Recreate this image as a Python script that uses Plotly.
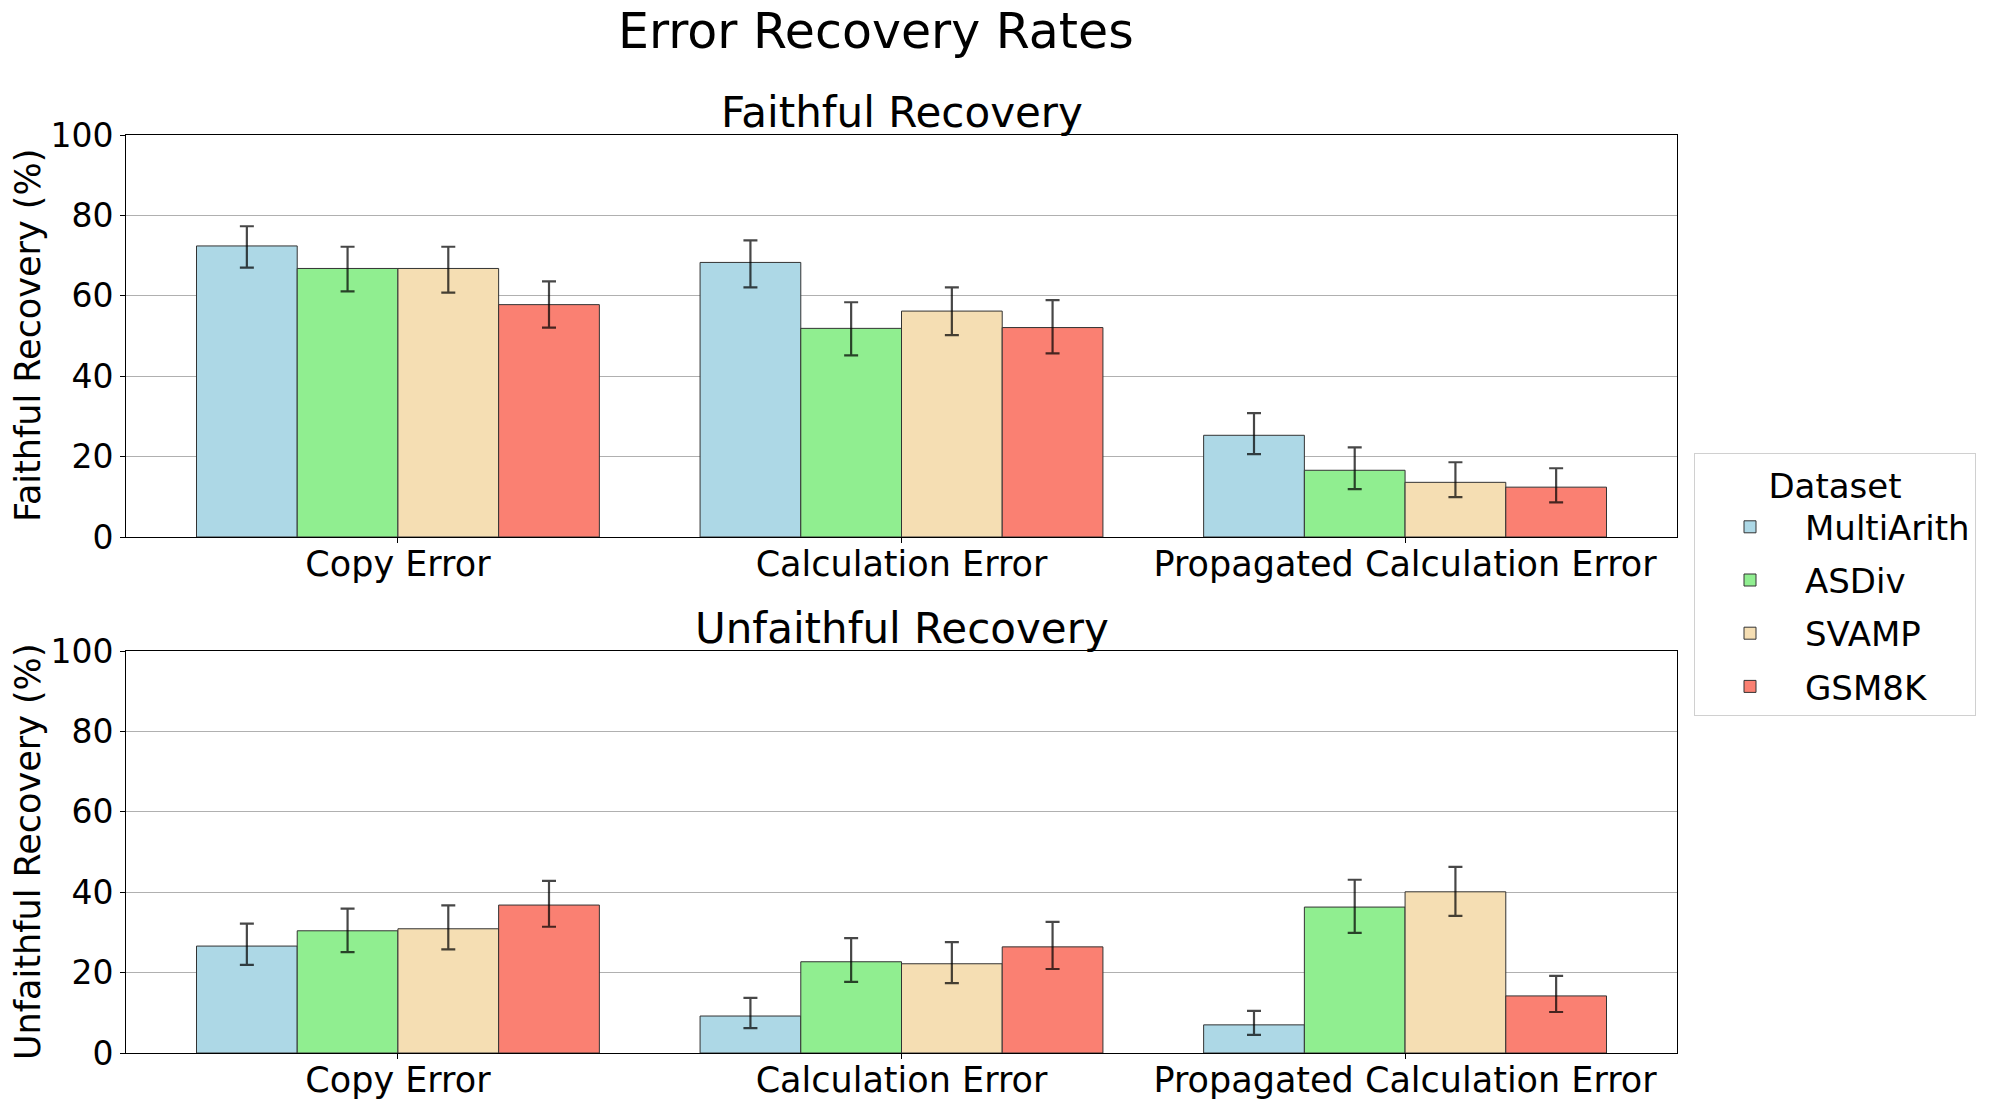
import plotly.graph_objects as go

categories = ["Copy Error", "Calculation Error", "Propagated Calculation Error"]
datasets = ["MultiArith", "ASDiv", "SVAMP", "GSM8K"]
colors = ["#ADD8E6", "#90EE90", "#F5DEB3", "#FA8072"]

# Faithful recovery (%) per dataset, values per category
faithful_multiarith = [72.4, 68.3, 25.3]
faithful_asdiv = [66.8, 51.9, 16.6]
faithful_svamp = [66.8, 56.2, 13.6]
faithful_gsm8k = [57.8, 52.1, 12.4]
faithful_multiarith_hi = [77.3, 73.8, 30.8]
faithful_multiarith_lo = [67.0, 62.1, 20.6]
faithful_asdiv_hi = [72.2, 58.4, 22.3]
faithful_asdiv_lo = [61.1, 45.2, 11.9]
faithful_svamp_hi = [72.2, 62.1, 18.6]
faithful_svamp_lo = [60.8, 50.2, 9.9]
faithful_gsm8k_hi = [63.6, 58.9, 17.1]
faithful_gsm8k_lo = [52.1, 45.7, 8.6]

# Unfaithful recovery (%)
unfaithful_multiarith = [26.6, 9.2, 7.0]
unfaithful_asdiv = [30.4, 22.7, 36.3]
unfaithful_svamp = [30.9, 22.2, 40.1]
unfaithful_gsm8k = [36.8, 26.4, 14.2]
unfaithful_multiarith_hi = [32.2, 13.7, 10.5]
unfaithful_multiarith_lo = [21.9, 6.2, 4.5]
unfaithful_asdiv_hi = [35.9, 28.6, 43.1]
unfaithful_asdiv_lo = [25.1, 17.7, 29.9]
unfaithful_svamp_hi = [36.7, 27.6, 46.3]
unfaithful_svamp_lo = [25.8, 17.4, 34.1]
unfaithful_gsm8k_hi = [42.8, 32.6, 19.2]
unfaithful_gsm8k_lo = [31.4, 20.9, 10.2]

y_ticks = [0, 20, 40, 60, 80, 100]

faithful = [
    (faithful_multiarith, faithful_multiarith_lo, faithful_multiarith_hi),
    (faithful_asdiv, faithful_asdiv_lo, faithful_asdiv_hi),
    (faithful_svamp, faithful_svamp_lo, faithful_svamp_hi),
    (faithful_gsm8k, faithful_gsm8k_lo, faithful_gsm8k_hi),
]
unfaithful = [
    (unfaithful_multiarith, unfaithful_multiarith_lo, unfaithful_multiarith_hi),
    (unfaithful_asdiv, unfaithful_asdiv_lo, unfaithful_asdiv_hi),
    (unfaithful_svamp, unfaithful_svamp_lo, unfaithful_svamp_hi),
    (unfaithful_gsm8k, unfaithful_gsm8k_lo, unfaithful_gsm8k_hi),
]

FONT = "DejaVu Sans"
OFF = 8  # page body margin
W, H = 1996 - 2 * OFF, 1107 - 2 * OFF

fig = go.Figure()

def add_panel(data, xa, ya, show_legend):
    for name, color, (vals, lo, hi) in zip(datasets, colors, data):
        fig.add_trace(go.Bar(
            x=categories, y=vals, name=name,
            marker=dict(color=color, line=dict(color="#333333", width=1)),
            error_y=dict(type="data", symmetric=False,
                         array=[h - v for h, v in zip(hi, vals)],
                         arrayminus=[v - l for v, l in zip(vals, lo)],
                         color="rgba(0,0,0,0.72)", thickness=2.2, width=7),
            xaxis=xa, yaxis=ya, showlegend=show_legend, legendgroup=name,
        ))

add_panel(faithful, "x", "y", True)
add_panel(unfaithful, "x2", "y2", False)

# target page coordinates (reference pixels), converted to figure coords
L, R = 126 - OFF, 1677 - OFF
top_t, top_b = 135 - OFF, 537 - OFF
bot_t, bot_b = 651 - OFF, 1053 - OFF

def py(px):
    return 1 - (px - OFF) / H

def pxx(px):
    return (px - OFF - L) / (R - L)

def pyd(px):  # px already in figure coords
    return 1 - px / H

axis_common = dict(showline=True, linecolor="black", linewidth=1, mirror=True,
                   ticks="outside", ticklen=5, tickcolor="black")
xtickfont = dict(family=FONT, size=35, color="black")
ytickfont = dict(family=FONT, size=33, color="black")

fig.update_layout(
    width=W, height=H,
    margin=dict(l=L, r=W - R, t=0, b=0, autoexpand=False),
    paper_bgcolor="white", plot_bgcolor="white",
    barmode="group", bargap=0.2, bargroupgap=0,
    font=dict(family=FONT, color="black"),
    xaxis=dict(domain=[0, 1], anchor="y", range=[-0.54, 2.54], showgrid=False,
               ticklabelstandoff=-9, tickfont=xtickfont, **axis_common),
    yaxis=dict(domain=[pyd(top_b), pyd(top_t)], anchor="x", range=[0, 100], tickvals=y_ticks,
               showgrid=True, gridcolor="#b0b0b0", gridwidth=1, zeroline=False,
               tickfont=ytickfont, **axis_common),
    xaxis2=dict(domain=[0, 1], anchor="y2", range=[-0.54, 2.54], showgrid=False,
                ticklabelstandoff=-9, tickfont=xtickfont, **axis_common),
    yaxis2=dict(domain=[pyd(bot_b), pyd(bot_t)], anchor="x2", range=[0, 100], tickvals=y_ticks,
                showgrid=True, gridcolor="#b0b0b0", gridwidth=1, zeroline=False,
                tickfont=ytickfont, **axis_common),
    legend=dict(x=pxx(1694), y=py(453), xanchor="left", yanchor="top",
                bgcolor="white", bordercolor="#d0d0d0", borderwidth=1,
                font=dict(family=FONT, size=34, color="black"),
                title=dict(text="Dataset", side="top center", font=dict(family=FONT, size=34)),
                tracegroupgap=6, itemwidth=100),
    annotations=[
        dict(text="Error Recovery Rates", x=pxx(876), y=py(31), xref="paper", yref="paper",
             xanchor="center", yanchor="middle", showarrow=False,
             font=dict(family=FONT, size=49, color="black")),
        dict(text="Faithful Recovery", x=0.5, y=py(112), xref="paper", yref="paper",
             xanchor="center", yanchor="middle", showarrow=False,
             font=dict(family=FONT, size=42, color="black")),
        dict(text="Unfaithful Recovery", x=0.5, y=py(628), xref="paper", yref="paper",
             xanchor="center", yanchor="middle", showarrow=False,
             font=dict(family=FONT, size=42, color="black")),
        dict(text="Faithful Recovery (%)", x=pxx(28), y=py((135 + 537) / 2), xref="paper", yref="paper",
             xanchor="center", yanchor="middle", textangle=-90, showarrow=False,
             font=dict(family=FONT, size=35, color="black")),
        dict(text="Unfaithful Recovery (%)", x=pxx(28), y=py((651 + 1053) / 2), xref="paper", yref="paper",
             xanchor="center", yanchor="middle", textangle=-90, showarrow=False,
             font=dict(family=FONT, size=35, color="black")),
    ],
)

fig.write_html("out.html")
